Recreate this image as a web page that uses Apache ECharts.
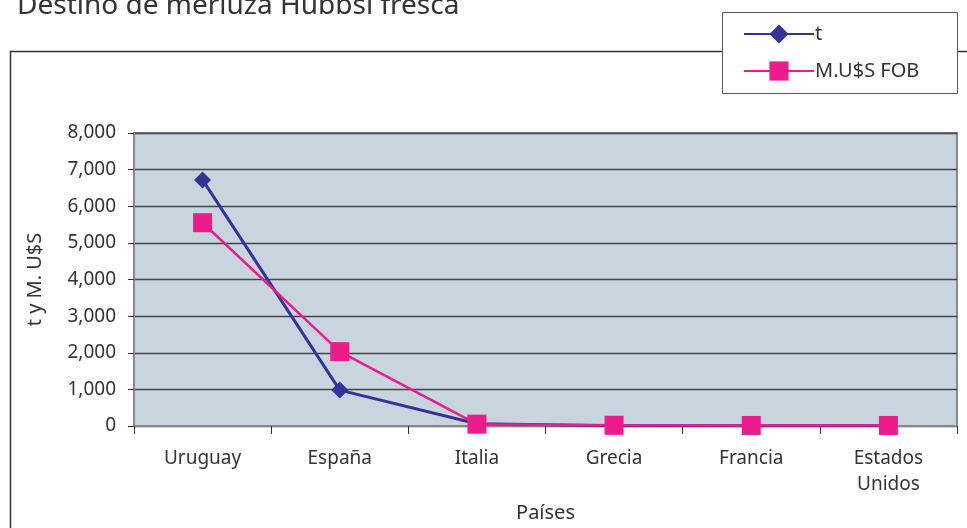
<!DOCTYPE html>
<html>
<head>
<meta charset="utf-8">
<script src="https://cdn.jsdelivr.net/npm/echarts@6/dist/echarts.min.js"></script>
<style>
  html, body { margin: 0; padding: 0; background: #fff; }
  #chart { width: 967px; height: 528px; }
</style>
</head>
<body>
<div id="chart"></div>
<script>
// datos del grafico
var paises = ['Uruguay', 'España', 'Italia', 'Grecia', 'Francia', 'Estados\nUnidos'];
var toneladas = [6720, 980, 60, 10, 10, 10];
var musFob = [5550, 2030, 50, 20, 15, 15];
var yTicks = [0, 1000, 2000, 3000, 4000, 5000, 6000, 7000, 8000];

var FONT = '"Noto Sans", sans-serif';

var chart = echarts.init(document.getElementById('chart'));
var option = {
    animation: false,
    title: {
        text: 'Destino de merluza Hubbsi fresca',
        left: 12,
        top: -13,
        textStyle: { color: '#333', fontWeight: 'normal', fontSize: 28, fontFamily: FONT }
    },
    graphic: [
        // marco exterior del grafico
        { type: 'rect', z: -1, shape: { x: 10.5, y: 51.5, width: 1000, height: 500 },
          style: { fill: '#fff', stroke: '#333', lineWidth: 1.5 } },
        // caja de la leyenda
        { type: 'rect', z: 1, shape: { x: 722.5, y: 12.5, width: 235, height: 81 },
          style: { fill: '#fff', stroke: '#555', lineWidth: 1 } }
    ],
    legend: {
        orient: 'vertical',
        left: 738,
        top: 19,
        itemWidth: 70,
        itemHeight: 24,
        itemGap: 17,
        z: 5,
        data: ['t', 'M.U$S FOB'],
        textStyle: { color: '#333', fontSize: 20, fontFamily: FONT, padding: [0, 0, 0, -4] }
    },
    grid: {
        left: 134, right: 10, top: 133, bottom: 102,
        outerBoundsMode: 'none',
        containLabel: false,
        show: true,
        backgroundColor: '#c8d4de',
        borderColor: '#888',
        borderWidth: 2
    },
    xAxis: {
        type: 'category',
        data: paises,
        boundaryGap: true,
        name: 'Países',
        nameLocation: 'middle',
        nameGap: 75,
        nameTextStyle: { color: '#333', fontSize: 20, fontFamily: FONT },
        axisLine: { lineStyle: { color: '#888', width: 2 } },
        axisTick: { show: true, length: 8, lineStyle: { color: '#333', width: 1 } },
        axisLabel: { color: '#333', fontSize: 19, fontFamily: FONT, margin: 20, lineHeight: 26, interval: 0 }
    },
    yAxis: {
        type: 'value',
        min: 0,
        max: 8000,
        interval: 1000,
        name: 't y M. U$S',
        nameLocation: 'middle',
        nameGap: 89,
        nameTextStyle: { color: '#333', fontSize: 20, fontFamily: FONT },
        axisLine: { show: true, lineStyle: { color: '#888', width: 2 } },
        axisTick: { show: true, length: 6, lineStyle: { color: '#333' } },
        splitLine: { lineStyle: { color: '#444', width: 1.3 } },
        axisLabel: {
            color: '#333', fontSize: 19, fontFamily: FONT, margin: 18,
            formatter: function (v) {
                return yTicks.indexOf(v) >= 0 ? v.toLocaleString('en-US') : '';
            }
        }
    },
    series: [
        {
            name: 't',
            type: 'line',
            data: toneladas,
            symbol: 'diamond',
            symbolSize: 17,
            z: 2,
            lineStyle: { color: '#333399', width: 3 },
            itemStyle: { color: '#333399' }
        },
        {
            name: 'M.U$S FOB',
            type: 'line',
            data: musFob,
            symbol: 'rect',
            symbolSize: 19,
            z: 3,
            lineStyle: { color: '#ec1c8c', width: 2.5 },
            itemStyle: { color: '#ec1c8c' }
        }
    ]
};
chart.setOption(option);
</script>
</body>
</html>
